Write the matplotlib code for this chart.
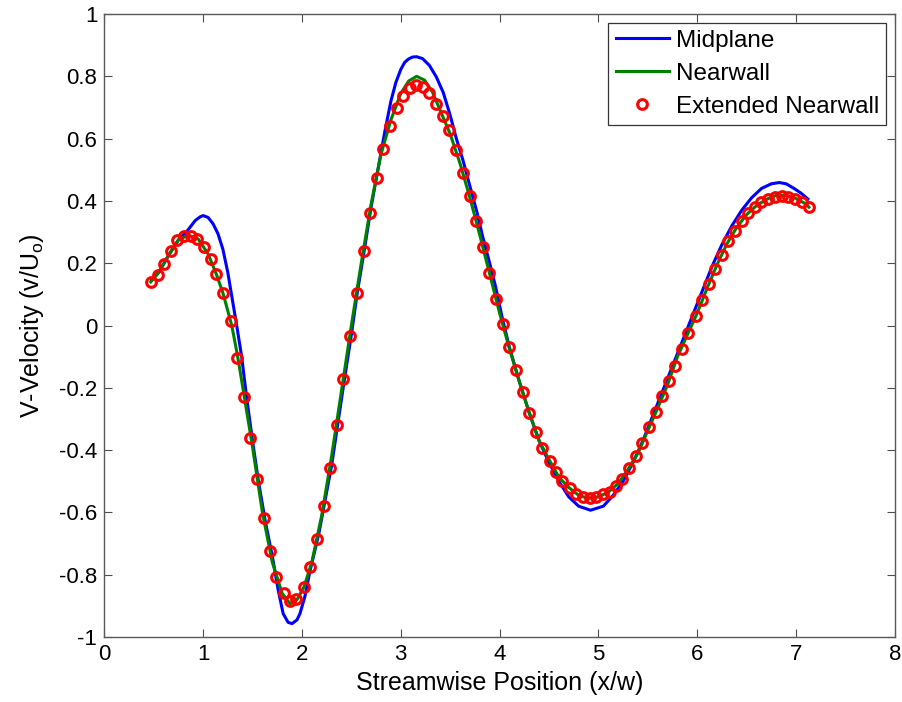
import numpy as np
import matplotlib
matplotlib.use("Agg")
import matplotlib.pyplot as plt

plt.rcParams['font.family'] = ['Liberation Sans', 'DejaVu Sans']
plt.rcParams['mathtext.fontset'] = 'custom'
plt.rcParams['mathtext.rm'] = 'Liberation Sans'
plt.rcParams['axes.unicode_minus'] = False

# Midplane (blue line)
mid_x = [0.48, 0.55, 0.65, 0.75, 0.83, 0.92, 0.97, 1.0, 1.05, 1.1, 1.15, 1.2, 1.25,
         1.3, 1.34, 1.39, 1.44, 1.5, 1.56, 1.63, 1.7, 1.76, 1.81, 1.86, 1.9, 1.95,
         1.98, 2.03, 2.08, 2.17, 2.3, 2.43, 2.5, 2.56, 2.63, 2.7, 2.78, 2.84, 2.9,
         2.95, 3.0, 3.04, 3.08, 3.12, 3.16, 3.22, 3.29, 3.36, 3.43, 3.5, 3.56, 3.63,
         3.7, 3.77, 3.83, 3.9, 3.96, 4.03, 4.1, 4.2, 4.3, 4.4, 4.5, 4.6, 4.7, 4.8,
         4.92, 5.05, 5.15, 5.25, 5.35, 5.45, 5.55, 5.65, 5.75, 5.85, 5.95, 6.05,
         6.15, 6.25, 6.35, 6.45, 6.55, 6.65, 6.75, 6.83, 6.9, 6.98, 7.05, 7.12]
mid_y = [0.146, 0.17, 0.225, 0.275, 0.30, 0.337, 0.349, 0.353, 0.347, 0.327, 0.295,
         0.245, 0.17, 0.075, 0.0, -0.10, -0.23, -0.37, -0.50, -0.63, -0.74, -0.85,
         -0.925, -0.953, -0.957, -0.945, -0.925, -0.87, -0.79, -0.67, -0.45, -0.173,
         -0.03, 0.105, 0.24, 0.38, 0.52, 0.625, 0.72, 0.78, 0.822, 0.845, 0.856, 0.862,
         0.863, 0.857, 0.835, 0.798, 0.748, 0.675, 0.603, 0.53, 0.447, 0.365, 0.284,
         0.2, 0.124, 0.02, -0.07, -0.18, -0.28, -0.37, -0.44, -0.50, -0.55, -0.58,
         -0.593, -0.58, -0.545, -0.50, -0.44, -0.37, -0.29, -0.21, -0.13, -0.05, 0.03,
         0.11, 0.19, 0.26, 0.32, 0.37, 0.41, 0.44, 0.455, 0.459, 0.455, 0.44, 0.425,
         0.406]

# Nearwall (green line)
near_x = [0.47, 0.55, 0.65, 0.75, 0.85, 0.95, 1.05, 1.13, 1.2, 1.29, 1.35, 1.42, 1.5,
          1.6, 1.7, 1.8, 1.88, 1.95, 2.02, 2.1, 2.2, 2.3, 2.4, 2.5, 2.6, 2.7, 2.8, 2.9,
          3.0, 3.08, 3.16, 3.24, 3.32, 3.4, 3.5, 3.6, 3.7, 3.8, 3.9, 4.0, 4.1, 4.2, 4.3,
          4.4, 4.5, 4.6, 4.7, 4.8, 4.9, 5.0, 5.1, 5.2, 5.3, 5.4, 5.5, 5.6, 5.7, 5.8,
          5.9, 6.0, 6.1, 6.2, 6.3, 6.4, 6.5, 6.6, 6.7, 6.8, 6.9, 7.0, 7.1, 7.13]
near_y = [0.14, 0.17, 0.225, 0.275, 0.29, 0.278, 0.23, 0.168, 0.105, 0.0, -0.10,
          -0.235, -0.39, -0.60, -0.76, -0.86, -0.893, -0.88, -0.84, -0.76, -0.61, -0.42,
          -0.21, 0.0, 0.20, 0.39, 0.55, 0.66, 0.745, 0.785, 0.80, 0.788, 0.75, 0.69,
          0.615, 0.52, 0.41, 0.29, 0.165, 0.04, -0.075, -0.18, -0.28, -0.37, -0.43,
          -0.487, -0.52, -0.545, -0.555, -0.55, -0.535, -0.507, -0.462, -0.41, -0.337,
          -0.265, -0.19, -0.10, -0.03, 0.04, 0.12, 0.195, 0.262, 0.315, 0.356, 0.385,
          0.405, 0.418, 0.418, 0.408, 0.39, 0.38]

# Extended Nearwall (red circles)
ext_x = [0.468, 0.539, 0.606, 0.674, 0.731, 0.805, 0.876, 0.943, 1.01, 1.075,
         1.135, 1.206, 1.28, 1.347, 1.415, 1.472, 1.543, 1.613, 1.681, 1.741,
         1.815, 1.876, 1.943, 2.017, 2.085, 2.152, 2.219, 2.28, 2.354, 2.415,
         2.485, 2.555, 2.623, 2.684, 2.755, 2.818, 2.889, 2.957, 3.027, 3.091,
         3.156, 3.222, 3.29, 3.357, 3.424, 3.492, 3.559, 3.626, 3.697, 3.765,
         3.829, 3.897, 3.964, 4.031, 4.098, 4.165, 4.232, 4.30, 4.368, 4.434,
         4.512, 4.57, 4.636, 4.711, 4.778, 4.845, 4.913, 4.98, 5.048, 5.115,
         5.176, 5.242, 5.31, 5.378, 5.444, 5.512, 5.58, 5.646, 5.714, 5.78,
         5.85, 5.91, 5.984, 6.05, 6.118, 6.179, 6.247, 6.313, 6.381, 6.448,
         6.515, 6.583, 6.65, 6.717, 6.785, 6.853, 6.919, 6.994, 7.061, 7.128]
ext_y = [0.141, 0.162, 0.196, 0.239, 0.273, 0.287, 0.287, 0.279, 0.252, 0.215,
         0.165, 0.103, 0.015, -0.105, -0.230, -0.362, -0.494, -0.617, -0.724, -0.807,
         -0.859, -0.886, -0.877, -0.841, -0.776, -0.686, -0.581, -0.456, -0.318, -0.173,
         -0.033, 0.106, 0.239, 0.360, 0.475, 0.566, 0.640, 0.697, 0.738, 0.762,
         0.773, 0.765, 0.745, 0.711, 0.672, 0.627, 0.563, 0.491, 0.415, 0.334,
         0.252, 0.169, 0.086, 0.005, -0.070, -0.144, -0.214, -0.282, -0.341, -0.394,
         -0.436, -0.471, -0.500, -0.522, -0.540, -0.549, -0.553, -0.551, -0.542, -0.533,
         -0.515, -0.492, -0.458, -0.420, -0.377, -0.327, -0.279, -0.226, -0.179, -0.131,
         -0.075, -0.024, 0.031, 0.082, 0.133, 0.183, 0.228, 0.270, 0.305, 0.335,
         0.360, 0.380, 0.396, 0.406, 0.414, 0.417, 0.414, 0.406, 0.396, 0.380]

xticks = [0, 1, 2, 3, 4, 5, 6, 7, 8]
yticks = [-1, -0.8, -0.6, -0.4, -0.2, 0, 0.2, 0.4, 0.6, 0.8, 1]

fig = plt.figure(figsize=(9.03, 7.02), dpi=100)
ax = fig.add_axes([0.1155, 0.0926, 0.991 - 0.1155, 0.980 - 0.0926])

ax.plot(mid_x, mid_y, color='#0000ff', lw=2.2, label='Midplane')
ax.plot(near_x, near_y, color='#008000', lw=2.2, label='Nearwall')
ax.plot(ext_x, ext_y, ls='none', marker='o', ms=7, mew=2.2, mec='#ff0000',
        mfc='none', label='Extended Nearwall')

ax.set_xlim(0, 8)
ax.set_ylim(-1, 1)
ax.set_xticks(xticks)
ax.set_yticks(yticks)
ax.set_xticklabels(['%g' % t for t in xticks])
ax.set_yticklabels(['%g' % t for t in yticks])
ax.tick_params(direction='in', length=6, width=0.8, top=True, right=True,
               labelsize=16, pad=5, color='0.3')

for s in ax.spines.values():
    s.set_color('0.35')
    s.set_linewidth(1)

ax.set_xlabel('Streamwise Position (x/w)', fontsize=18)
ax.set_ylabel(r'V-Velocity (v/U$_\mathrm{o}$)', fontsize=18)
ax.xaxis.set_label_coords(0.5, -0.054)
ax.yaxis.set_label_coords(-0.074, 0.5)

leg = ax.legend(loc='upper right', fontsize=17.5, frameon=True, fancybox=False,
                edgecolor='0.2', framealpha=1, borderaxespad=0.35,
                handlelength=2.2, handletextpad=0.28, labelspacing=0.45,
                borderpad=0.3)
leg.get_frame().set_linewidth(0.9)

fig.savefig('out.png', dpi=100)
